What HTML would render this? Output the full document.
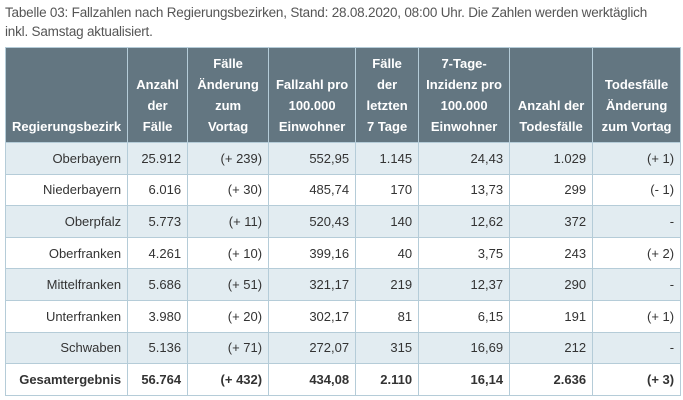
<!DOCTYPE html>
<html><head><meta charset="utf-8"><style>
body{margin:0;width:683px;height:400px;background:#fff;font-family:"Liberation Sans",sans-serif;overflow:hidden}
.cap{position:absolute;left:5px;top:3px;width:650px;font-size:13.5px;line-height:19px;color:#555;letter-spacing:-0.2px}
table{position:absolute;left:5px;top:47px;border-collapse:collapse;table-layout:fixed;font-size:13px;color:#333}
td,th{border:1px solid #b5ccd8;padding:0 6px;text-align:right;height:30.6px;white-space:nowrap}
th{background:#637681;color:#fff;font-weight:bold;text-align:center;vertical-align:bottom;height:89px;line-height:21px;padding-bottom:5px;border-color:#b5ccd8}
th:first-child{text-align:left}
tr.o td{background:#e2ecf1}
tr.t td{font-weight:bold}
</style></head><body>
<div class="cap">Tabelle 03: Fallzahlen nach Regierungsbezirken, Stand: 28.08.2020, 08:00 Uhr. Die Zahlen werden werktäglich inkl. Samstag aktualisiert.</div>
<table>
<colgroup><col style="width:122px"><col style="width:60px"><col style="width:81px"><col style="width:87px"><col style="width:63px"><col style="width:91px"><col style="width:83px"><col style="width:88px"></colgroup>
<tr><th>Regierungsbezirk</th><th>Anzahl<br>der<br>Fälle</th><th>Fälle<br>Änderung<br>zum<br>Vortag</th><th>Fallzahl pro<br>100.000<br>Einwohner</th><th>Fälle<br>der<br>letzten<br>7 Tage</th><th>7-Tage-<br>Inzidenz pro<br>100.000<br>Einwohner</th><th>Anzahl der<br>Todesfälle</th><th>Todesfälle<br>Änderung<br>zum Vortag</th></tr>
<tr class="o"><td>Oberbayern</td><td>25.912</td><td>(+ 239)</td><td>552,95</td><td>1.145</td><td>24,43</td><td>1.029</td><td>(+ 1)</td></tr>
<tr><td>Niederbayern</td><td>6.016</td><td>(+ 30)</td><td>485,74</td><td>170</td><td>13,73</td><td>299</td><td>(- 1)</td></tr>
<tr class="o"><td>Oberpfalz</td><td>5.773</td><td>(+ 11)</td><td>520,43</td><td>140</td><td>12,62</td><td>372</td><td>-</td></tr>
<tr><td>Oberfranken</td><td>4.261</td><td>(+ 10)</td><td>399,16</td><td>40</td><td>3,75</td><td>243</td><td>(+ 2)</td></tr>
<tr class="o"><td>Mittelfranken</td><td>5.686</td><td>(+ 51)</td><td>321,17</td><td>219</td><td>12,37</td><td>290</td><td>-</td></tr>
<tr><td>Unterfranken</td><td>3.980</td><td>(+ 20)</td><td>302,17</td><td>81</td><td>6,15</td><td>191</td><td>(+ 1)</td></tr>
<tr class="o"><td>Schwaben</td><td>5.136</td><td>(+ 71)</td><td>272,07</td><td>315</td><td>16,69</td><td>212</td><td>-</td></tr>
<tr class="t"><td>Gesamtergebnis</td><td>56.764</td><td>(+ 432)</td><td>434,08</td><td>2.110</td><td>16,14</td><td>2.636</td><td>(+ 3)</td></tr>
</table>
</body></html>
